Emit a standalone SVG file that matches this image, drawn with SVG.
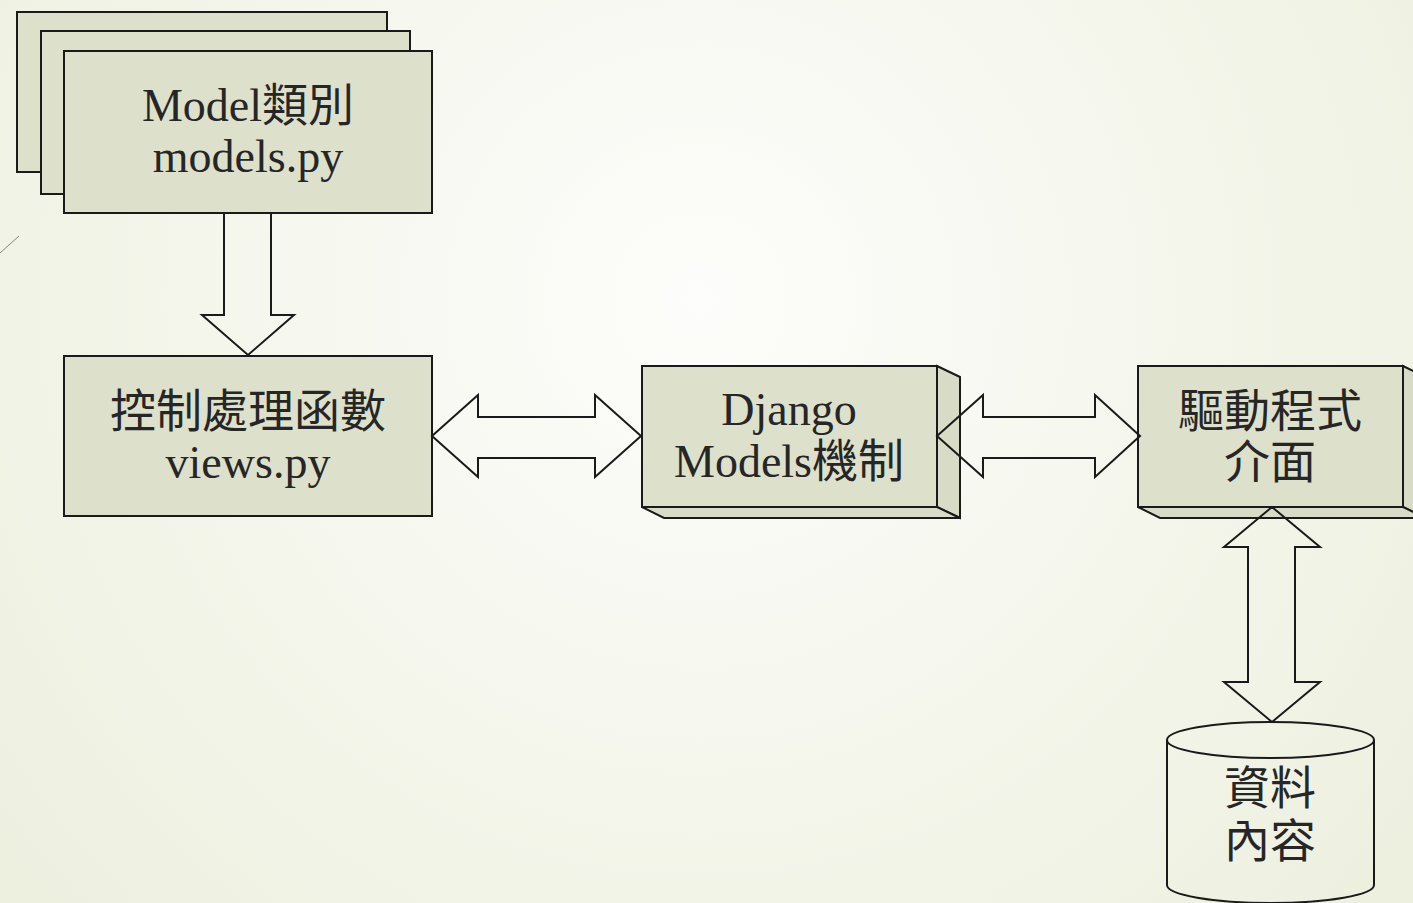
<svg xmlns="http://www.w3.org/2000/svg" width="1413" height="903" viewBox="0 0 1413 903">
<defs>
<radialGradient id="bg" cx="700" cy="300" r="900" gradientUnits="userSpaceOnUse">
<stop offset="0" stop-color="#fdfdfb"/>
<stop offset="1" stop-color="#edf0df"/>
</radialGradient>
<style>
.box{fill:#dde0cb;stroke:#1a1a1a;stroke-width:2}
.side{fill:#d8dbc5;stroke:#1a1a1a;stroke-width:2;stroke-linejoin:miter}
.arr{fill:none;stroke:#1a1a1a;stroke-width:2;stroke-linejoin:miter}
.t{font-family:"Liberation Serif","Noto Sans CJK TC",serif;font-size:46px;fill:#262626;text-anchor:middle}
</style>
</defs>
<rect x="0" y="0" width="1413" height="903" fill="url(#bg)"/>
<line x1="0" y1="253" x2="19" y2="236" stroke="#8a8472" stroke-width="1"/>

<g id="model">
<rect class="box" x="17" y="12" width="370" height="160"/>
<rect class="box" x="41" y="31" width="369" height="163"/>
<rect class="box" x="64" y="51" width="368" height="162"/>
<text class="t" x="248" y="121">Model類別</text>
<text class="t" x="248" y="172">models.py</text>
</g>

<g id="views">
<rect class="box" x="64" y="356" width="368" height="160"/>
<text class="t" x="248" y="427">控制處理函數</text>
<text class="t" x="248" y="478">views.py</text>
</g>

<g id="django">
<path class="side" d="M937,366 L960,377 V518 L937,507 Z"/>
<path class="side" d="M642,507 H937 L960,518 H664 Z"/>
<rect class="box" x="642" y="366" width="295" height="141"/>
<text class="t" x="789" y="425">Django</text>
<text class="t" x="789" y="477">Models機制</text>
</g>

<g id="driver">
<path class="side" d="M1403,366 L1426,377 V518 L1403,507 Z"/>
<path class="side" d="M1138,507 H1403 L1426,518 H1160 Z"/>
<rect class="box" x="1138" y="366" width="265" height="141"/>
<text class="t" x="1270" y="427">驅動程式</text>
<text class="t" x="1270" y="478">介面</text>
</g>

<g id="data">
<path class="box" style="fill:none" d="M1167,740 V885 A103.5,18 0 0 0 1374,885 V740"/>
<ellipse class="box" style="fill:none" cx="1270.5" cy="740" rx="103.5" ry="18"/>
<text class="t" x="1270" y="804">資料</text>
<text class="t" x="1270" y="857">內容</text>
</g>

<g id="connectors">
<path class="arr" d="M224,213 V315 H202 L248,355 L294,315 H271 V213"/>
<path class="arr" d="M432,436 L478,395 V417 H595 V395 L641,436 L595,477 V458 H478 V477 Z"/>
<path class="arr" d="M937,436 L983,395 V417 H1095 V395 L1140,436 L1095,477 V458 H983 V477 Z"/>
<path class="arr" d="M1272,507 L1320,547 H1295 V682 H1320 L1272,722 L1224,682 H1248 V547 H1224 Z"/>
</g>
</svg>
